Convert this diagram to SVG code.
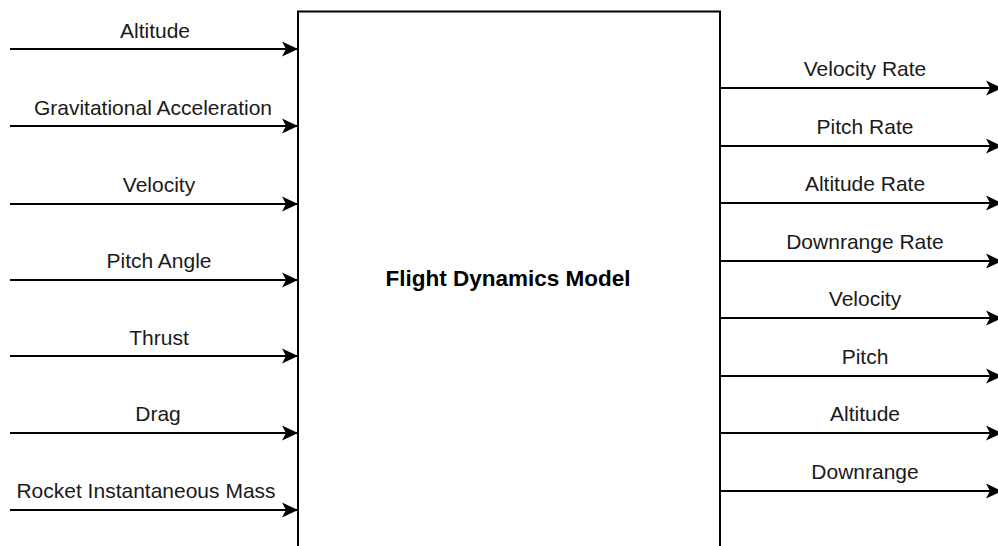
<svg xmlns="http://www.w3.org/2000/svg" width="998" height="546" viewBox="0 0 998 546">
<defs>
<marker id="arr" markerUnits="userSpaceOnUse" markerWidth="18" markerHeight="18" refX="16" refY="8" orient="auto" viewBox="0 0 18 16">
<path d="M0,0.5 L16,8 L0,15.5 L4,8 Z" fill="#000"/>
</marker>
<style>
.lbl{font-family:"Liberation Sans",Arial,sans-serif;font-size:21px;fill:#1a1a1a;text-anchor:middle}
.ttl{font-family:"Liberation Sans",Arial,sans-serif;font-size:22.5px;font-weight:bold;fill:#000;text-anchor:middle}
.ln{stroke:#000;stroke-width:2;fill:none;marker-end:url(#arr)}
.box{fill:#fff;stroke:#000;stroke-width:2}
</style>
</defs>
<rect width="998" height="546" fill="#fff"/>
<g id="model">
<rect class="box" x="298" y="11.5" width="422" height="560"/>
<text class="ttl" x="508" y="286">Flight Dynamics Model</text>
</g>
<g id="connectors">
<line class="ln" x1="10" y1="49" x2="298" y2="49"/>
<line class="ln" x1="10" y1="126" x2="298" y2="126"/>
<line class="ln" x1="10" y1="204" x2="298" y2="204"/>
<line class="ln" x1="10" y1="280" x2="298" y2="280"/>
<line class="ln" x1="10" y1="356" x2="298" y2="356"/>
<line class="ln" x1="10" y1="433" x2="298" y2="433"/>
<line class="ln" x1="10" y1="510" x2="298" y2="510"/>
<line class="ln" x1="720" y1="88" x2="1002" y2="88"/>
<line class="ln" x1="720" y1="146" x2="1002" y2="146"/>
<line class="ln" x1="720" y1="203" x2="1002" y2="203"/>
<line class="ln" x1="720" y1="261" x2="1002" y2="261"/>
<line class="ln" x1="720" y1="318" x2="1002" y2="318"/>
<line class="ln" x1="720" y1="376" x2="1002" y2="376"/>
<line class="ln" x1="720" y1="433" x2="1002" y2="433"/>
<line class="ln" x1="720" y1="491" x2="1002" y2="491"/>
</g>
<g id="input-labels">
<text class="lbl" x="155" y="38">Altitude</text>
<text class="lbl" x="153" y="115">Gravitational Acceleration</text>
<text class="lbl" x="159" y="192">Velocity</text>
<text class="lbl" x="159" y="268">Pitch Angle</text>
<text class="lbl" x="159" y="345">Thrust</text>
<text class="lbl" x="158" y="421">Drag</text>
<text class="lbl" x="146" y="498">Rocket Instantaneous Mass</text>
</g>
<g id="output-labels">
<text class="lbl" x="865" y="76">Velocity Rate</text>
<text class="lbl" x="865" y="134">Pitch Rate</text>
<text class="lbl" x="865" y="191">Altitude Rate</text>
<text class="lbl" x="865" y="249">Downrange Rate</text>
<text class="lbl" x="865" y="306">Velocity</text>
<text class="lbl" x="865" y="364">Pitch</text>
<text class="lbl" x="865" y="421">Altitude</text>
<text class="lbl" x="865" y="479">Downrange</text>
</g>
</svg>
